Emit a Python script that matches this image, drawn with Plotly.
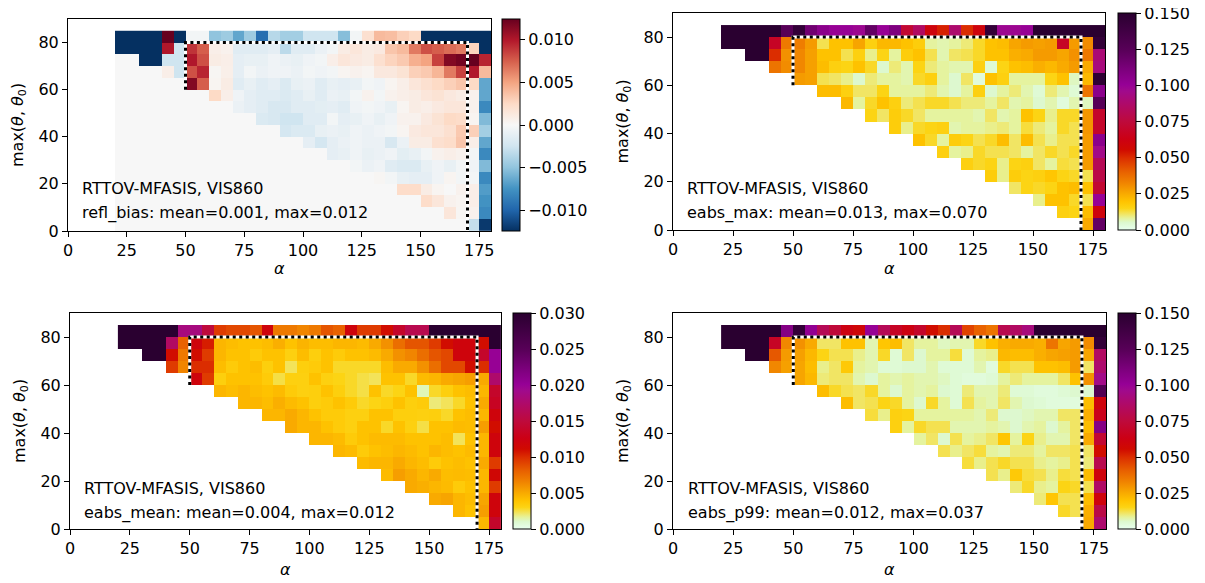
import numpy as np
import plotly.graph_objects as go

W, H = 1205, 583
OFF = 8  # the page body adds an 8px margin around the figure
N = None

# ---- grid (cell centres) ----
alpha_centers = [22.5, 27.5, 32.5, 37.5, 42.5, 47.5, 52.5, 57.5, 62.5, 67.5, 72.5, 77.5,
                 82.5, 87.5, 92.5, 97.5, 102.5, 107.5, 112.5, 117.5, 122.5, 127.5, 132.5,
                 137.5, 142.5, 147.5, 152.5, 157.5, 162.5, 167.5, 172.5, 177.5]
theta_centers = [82.5, 77.5, 72.5, 67.5, 62.5, 57.5, 52.5, 47.5, 42.5, 37.5, 32.5,
                 27.5, 22.5, 17.5, 12.5, 7.5, 2.5]

x_ticks = [0, 25, 50, 75, 100, 125, 150, 175]
y_ticks = [0, 20, 40, 60, 80]

# dotted validity box
box_alpha = [50, 50, 170, 170]
box_theta = [60, 80, 80, 0]

# ---- refl_bias (units of 1e-3), rows from theta=80-85 down to 0-5 ----
refl_bias_milli = [
    [-13, -13, -13, -13, 12.5, -13, -0.3, -0.3, -5, -4.5, -6.5, -4.5, -9.5, -3.5, -4.3, -4.3, -2.5, -2.5, -2.5, -5.3, -0.3, 2, 4, 3.8, 3, 2.5, -13, -13, -13, -13, -13, -13],
    [-13, -13, -13, -13, 10, -2.5, 9, 7.5, 0.8, 0.5, -1.5, -1.5, -1.5, -1.2, -3.3, -1.5, -1.5, -0.8, -0.3, 1, 1.5, 1, 1.2, 3.5, 4, 6.5, 8, 7.5, 7, 6.5, 2.8, -13],
    [0, 0, -13, -13, -2.5, -2.5, 10, 8, 1, 0.8, -1.2, -1, -1, -0.5, -0.8, -1, -0.5, -0.3, 0.8, 1.5, 1.2, 1, 2, 2.8, 3.3, 4.5, 5, 8.5, 11.5, 12, 12.5, 9.5],
    [0, 0, 0, 0, 0.8, -2.5, 8, 9.5, 0.2, 0.7, -1.2, -0.3, -0.8, -0.5, -0.5, -0.8, -0.3, -0.5, -0.3, 0.3, 0.5, 0.3, 1.3, 1.3, 1.8, 3, 3.3, 4.2, 6.5, 8.5, 10, 4],
    [0, 0, 0, 0, 0, 0, 11.5, 7.5, 0.3, 1, -1.5, -1, -1.5, -1.2, -1.8, -1, -0.8, -1.5, -1, -1.2, -1, -0.3, -0.5, 0.3, 0.8, 1.5, 2, 2.5, 3, 3.5, 2.5, -6.5],
    [0, 0, 0, 0, 0, 0, 0, 0, 2.5, 0.8, -0.5, -1.2, -1.5, -1.5, -1.8, -1.5, -1, -1.5, -0.8, -1, -0.3, 0.5, -0.3, 0.5, 0.8, 1, 1.5, 1.8, 1.3, 1, 0.5, -6.5],
    [0, 0, 0, 0, 0, 0, 0, 0, 0, 0, -0.8, -1.2, -1.5, -2, -2, -1.5, -1.5, -1.3, -1.2, -1.5, -0.5, -0.3, -0.5, -1, 0.3, 1, 0.8, 1.2, 1.5, 1.5, 0.5, -8],
    [0, 0, 0, 0, 0, 0, 0, 0, 0, 0, 0, 0, -1.8, -2, -2.5, -2.5, -1.5, -1.5, -0.3, -1.2, -1, -0.5, -1, -0.5, 0.5, 0.5, 1.2, 1.8, 2.5, 2.3, 0.3, -5.5],
    [0, 0, 0, 0, 0, 0, 0, 0, 0, 0, 0, 0, 0, 0, -2.2, -1.8, -1.8, -1, -0.8, -1, -0.5, -0.8, -0.5, -0.3, 0.3, 1.2, 1.5, 1.5, 2, 3.3, 3, -4.3],
    [0, 0, 0, 0, 0, 0, 0, 0, 0, 0, 0, 0, 0, 0, 0, 0, -1.2, -2.2, -1.2, -0.8, -0.5, -0.8, -0.8, -2, -0.8, 1, 1, 2, 2.3, 3.5, 0.8, -6.5],
    [0, 0, 0, 0, 0, 0, 0, 0, 0, 0, 0, 0, 0, 0, 0, 0, 0, 0, -1.2, -1, -0.5, -1, -0.8, -0.5, -1.3, -1, -0.3, 0.5, 0.8, 0.5, -0.3, -8],
    [0, 0, 0, 0, 0, 0, 0, 0, 0, 0, 0, 0, 0, 0, 0, 0, 0, 0, 0, 0, -0.3, -0.8, -0.5, -1.5, -1.8, -1.8, -1, -0.5, -1, -0.3, -0.5, -5.5],
    [0, 0, 0, 0, 0, 0, 0, 0, 0, 0, 0, 0, 0, 0, 0, 0, 0, 0, 0, 0, 0, 0, 0.2, -0.3, -1, -1.2, -1.2, -0.5, 0.3, -0.3, -0.3, -8],
    [0, 0, 0, 0, 0, 0, 0, 0, 0, 0, 0, 0, 0, 0, 0, 0, 0, 0, 0, 0, 0, 0, 0, 0, 2.3, 2.3, 1, 0.3, 0, 0.5, 0.8, -7],
    [0, 0, 0, 0, 0, 0, 0, 0, 0, 0, 0, 0, 0, 0, 0, 0, 0, 0, 0, 0, 0, 0, 0, 0, 0, 0, 2.3, 1.5, 0.5, 0.3, 0.8, -7.5],
    [0, 0, 0, 0, 0, 0, 0, 0, 0, 0, 0, 0, 0, 0, 0, 0, 0, 0, 0, 0, 0, 0, 0, 0, 0, 0, 0, 0, 1.5, 0.2, 0.5, -8],
    [0, 0, 0, 0, 0, 0, 0, 0, 0, 0, 0, 0, 0, 0, 0, 0, 0, 0, 0, 0, 0, 0, 0, 0, 0, 0, 0, 0, 0, 0, -3, -12],
]

# ---- eabs_max (units of 1e-3) ----
eabs_max_milli = [
    [150, 150, 150, 150, 150, 125, 145, 115, 105, 100, 100, 98, 120, 100, 110, 72, 85, 60, 52, 88, 50, 60, 145, 98, 98, 100, 150, 150, 150, 150, 150, 150],
    [150, 150, 150, 150, 68, 35, 34, 28, 12, 20, 20, 26, 16, 22, 22, 20, 17, 8, 7, 8, 10, 14, 20, 21, 26, 28, 27, 28, 68, 28, 31, 145],
    [N, N, 150, 150, 50, 30, 32, 27, 20, 20, 12, 16, 9, 15, 8, 17, 20, 12, 7, 11, 12, 14, 20, 20, 24, 25, 28, 28, 26, 30, 35, 90],
    [N, N, N, N, 36, 31, 32, 27, 21, 16, 15, 20, 14, 5, 10, 7, 15, 10, 8, 7, 7, 16, 4, 15, 20, 21, 24, 22, 25, 28, 25, 92],
    [N, N, N, N, N, N, 28, 27, 12, 11, 9, 5, 10, 8, 8, 7, 14, 16, 8, 5, 11, 3, 20, 16, 8, 8, 8, 15, 20, 6, 22, 148],
    [N, N, N, N, N, N, N, N, 21, 21, 16, 11, 11, 15, 8, 8, 8, 10, 7, 5, 8, 16, 5, 8, 10, 7, 4, 10, 7, 4, 36, 105],
    [N, N, N, N, N, N, N, N, N, N, 22, 8, 14, 20, 16, 10, 12, 14, 14, 12, 10, 10, 8, 11, 7, 8, 5, 7, 3, 7, 6, 125],
    [N, N, N, N, N, N, N, N, N, N, N, N, 15, 11, 17, 14, 11, 8, 8, 8, 8, 7, 11, 7, 8, 20, 15, 9, 14, 14, 29, 70],
    [N, N, N, N, N, N, N, N, N, N, N, N, N, N, 17, 9, 14, 15, 16, 7, 8, 8, 9, 10, 8, 13, 10, 8, 14, 12, 29, 70],
    [N, N, N, N, N, N, N, N, N, N, N, N, N, N, N, N, 20, 14, 8, 17, 15, 12, 14, 21, 11, 21, 12, 9, 12, 12, 28, 105],
    [N, N, N, N, N, N, N, N, N, N, N, N, N, N, N, N, N, N, 16, 8, 9, 14, 12, 12, 11, 8, 11, 14, 12, 14, 28, 95],
    [N, N, N, N, N, N, N, N, N, N, N, N, N, N, N, N, N, N, N, N, 16, 14, 15, 9, 15, 16, 11, 8, 13, 12, 28, 82],
    [N, N, N, N, N, N, N, N, N, N, N, N, N, N, N, N, N, N, N, N, N, N, 17, 9, 17, 15, 16, 19, 15, 14, 12, 78],
    [N, N, N, N, N, N, N, N, N, N, N, N, N, N, N, N, N, N, N, N, N, N, N, N, 11, 15, 14, 15, 20, 21, 20, 72],
    [N, N, N, N, N, N, N, N, N, N, N, N, N, N, N, N, N, N, N, N, N, N, N, N, N, N, 9, 20, 20, 14, 12, 100],
    [N, N, N, N, N, N, N, N, N, N, N, N, N, N, N, N, N, N, N, N, N, N, N, N, N, N, N, N, 16, 15, 21, 60],
    [N, N, N, N, N, N, N, N, N, N, N, N, N, N, N, N, N, N, N, N, N, N, N, N, N, N, N, N, N, N, 25, 120],
]

# ---- eabs_mean (units of 1e-3) ----
eabs_mean_milli = [
    [30, 30, 30, 30, 30, 18.5, 18.5, 15, 9.5, 9, 9, 8.5, 12, 7, 7, 6.5, 7, 8.5, 8, 12, 9.5, 9.5, 11, 14, 16, 16, 30, 30, 30, 30, 30, 30],
    [30, 30, 30, 30, 17, 8, 12, 10.5, 4.5, 4.2, 4, 4, 4.2, 4.8, 4, 4.6, 4.2, 4.2, 4.5, 4.5, 4.3, 5, 6, 7.5, 8.5, 8.5, 9.5, 11, 12, 12, 11, 30],
    [N, N, 30, 30, 11, 7, 11, 9.5, 4.5, 4, 4, 3.5, 4, 4, 3.2, 4.2, 3.3, 4, 3.5, 4, 4, 4.3, 5, 6, 6.5, 7.5, 8.5, 9, 12, 12, 14, 20],
    [N, N, N, N, 9.5, 6.5, 10, 10, 4.2, 3.5, 4, 4.2, 3.3, 4, 2.3, 3.3, 3.5, 4, 2.8, 2.8, 2.8, 2.8, 4.2, 5, 5, 6, 7.5, 9, 9, 11, 10, 20],
    [N, N, N, N, N, N, 12, 9.5, 3.3, 4, 4, 4, 3.5, 2.5, 3.2, 3.2, 4, 3.2, 3, 2.8, 2.5, 2.3, 4, 4, 2.8, 4.3, 4.5, 5, 5.2, 5.5, 5, 17.5],
    [N, N, N, N, N, N, N, N, 4.5, 4.2, 4.5, 4.2, 4, 4.3, 3.5, 3.2, 3.3, 4, 3.3, 2.8, 2.5, 4, 2.8, 3, 4, 1.3, 2.8, 3.3, 4, 4.2, 4.5, 14],
    [N, N, N, N, N, N, N, N, N, N, 4.5, 4.5, 4.2, 4.8, 4.3, 4, 3.3, 3.5, 4, 3.5, 2.8, 3, 3.3, 4, 3.3, 3.5, 2, 2.3, 2.8, 4, 5, 13.5],
    [N, N, N, N, N, N, N, N, N, N, N, N, 4.5, 4.5, 5, 4.5, 4, 3.5, 3.5, 3.2, 3.2, 4, 4, 3.3, 3.3, 3.2, 3.3, 2.8, 4, 4.2, 4.5, 12],
    [N, N, N, N, N, N, N, N, N, N, N, N, N, N, 5, 4.5, 4.5, 4, 3.5, 3.2, 4, 4, 2.8, 4, 3.2, 2.5, 4, 4, 4.3, 4.2, 5.5, 11],
    [N, N, N, N, N, N, N, N, N, N, N, N, N, N, N, N, 4.5, 4.5, 4.3, 3.5, 4, 4.3, 4.3, 4.3, 4, 4, 4, 4.2, 2.3, 4, 4.5, 12],
    [N, N, N, N, N, N, N, N, N, N, N, N, N, N, N, N, N, N, 4.5, 4.3, 3.5, 4, 4.2, 4.5, 4.3, 4, 4.5, 4.2, 4, 4.3, 4.5, 12],
    [N, N, N, N, N, N, N, N, N, N, N, N, N, N, N, N, N, N, N, N, 4.3, 4.5, 4.5, 5, 4.5, 4.2, 3.5, 4, 4.2, 4, 5, 9.5],
    [N, N, N, N, N, N, N, N, N, N, N, N, N, N, N, N, N, N, N, N, N, N, 4.3, 5.5, 5, 4.5, 5, 4.2, 4.3, 4.2, 4.5, 11.5],
    [N, N, N, N, N, N, N, N, N, N, N, N, N, N, N, N, N, N, N, N, N, N, N, N, 5, 4.8, 4.5, 4.3, 3.5, 4, 4.5, 9.5],
    [N, N, N, N, N, N, N, N, N, N, N, N, N, N, N, N, N, N, N, N, N, N, N, N, N, N, 5, 5.2, 4.5, 4.2, 5.2, 12],
    [N, N, N, N, N, N, N, N, N, N, N, N, N, N, N, N, N, N, N, N, N, N, N, N, N, N, N, N, 4.5, 4, 5.5, 12],
    [N, N, N, N, N, N, N, N, N, N, N, N, N, N, N, N, N, N, N, N, N, N, N, N, N, N, N, N, N, N, 4.5, 14],
]

# ---- eabs_p99 (units of 1e-3) ----
eabs_p99_milli = [
    [150, 150, 150, 150, 150, 108, 145, 102, 82, 74, 62, 58, 100, 82, 68, 62, 70, 55, 50, 82, 46, 40, 36, 80, 85, 92, 150, 150, 150, 150, 150, 150],
    [150, 150, 150, 150, 68, 32, 30, 25, 11, 11, 20, 20, 7, 19, 21, 11, 8, 8, 6, 7, 7, 14, 20, 24, 25, 25, 24, 36, 26, 28, 31, 145],
    [N, N, 150, 150, 42, 28, 27, 22, 15, 12, 12, 9, 7, 14, 4, 11, 5, 8, 8, 13, 4, 8, 9, 22, 21, 21, 24, 26, 27, 28, 26, 85],
    [N, N, N, N, 32, 27, 26, 21, 9, 11, 18, 8, 7, 4, 4, 5, 5, 7, 4, 4, 4, 7, 3, 14, 12, 12, 20, 20, 21, 28, 11, 88],
    [N, N, N, N, N, N, 26, 22, 10, 11, 11, 7, 5, 8, 7, 8, 7, 7, 6, 4, 3, 3, 4, 8, 10, 8, 8, 8, 11, 20, 30, 95],
    [N, N, N, N, N, N, N, N, 21, 14, 12, 11, 14, 8, 5, 8, 7, 8, 5, 4, 10, 7, 7, 10, 4, 4, 3, 3, 4, 5, 5, 128],
    [N, N, N, N, N, N, N, N, N, N, 21, 11, 12, 15, 14, 8, 5, 14, 8, 4, 12, 8, 7, 11, 7, 5, 4, 3, 3, 3, 21, 60],
    [N, N, N, N, N, N, N, N, N, N, N, N, 13, 9, 16, 15, 8, 8, 8, 8, 8, 7, 10, 5, 5, 6, 7, 7, 11, 11, 24, 65],
    [N, N, N, N, N, N, N, N, N, N, N, N, N, N, 16, 8, 14, 12, 12, 7, 7, 7, 8, 7, 5, 7, 8, 5, 8, 11, 21, 108],
    [N, N, N, N, N, N, N, N, N, N, N, N, N, N, N, N, 8, 11, 5, 12, 8, 9, 11, 19, 8, 15, 9, 7, 7, 11, 25, 72],
    [N, N, N, N, N, N, N, N, N, N, N, N, N, N, N, N, N, N, 12, 9, 11, 13, 8, 7, 10, 10, 8, 11, 11, 12, 11, 55],
    [N, N, N, N, N, N, N, N, N, N, N, N, N, N, N, N, N, N, N, N, 13, 9, 12, 14, 12, 12, 9, 8, 9, 12, 10, 80],
    [N, N, N, N, N, N, N, N, N, N, N, N, N, N, N, N, N, N, N, N, N, N, 12, 9, 18, 13, 12, 9, 13, 12, 21, 60],
    [N, N, N, N, N, N, N, N, N, N, N, N, N, N, N, N, N, N, N, N, N, N, N, N, 10, 14, 9, 8, 15, 14, 12, 86],
    [N, N, N, N, N, N, N, N, N, N, N, N, N, N, N, N, N, N, N, N, N, N, N, N, N, N, 10, 19, 12, 12, 21, 60],
    [N, N, N, N, N, N, N, N, N, N, N, N, N, N, N, N, N, N, N, N, N, N, N, N, N, N, N, N, 14, 12, 24, 78],
    [N, N, N, N, N, N, N, N, N, N, N, N, N, N, N, N, N, N, N, N, N, N, N, N, N, N, N, N, N, N, 25, 88],
]

stat_labels = ["refl_bias: mean=0.001, max=0.012",
               "eabs_max: mean=0.013, max=0.070",
               "eabs_mean: mean=0.004, max=0.012",
               "eabs_p99: mean=0.012, max=0.037"]
model_label = "RTTOV-MFASIS, VIS860"
x_title = "<i>α</i>"
y_title = "max(<i>θ</i>, <i>θ</i><sub>0</sub>)"

# ---- colour scales ----
rdbu_r = [[0.0, '#053061'], [0.1, '#2166ac'], [0.2, '#4393c3'], [0.3, '#92c5de'],
          [0.4, '#d1e5f0'], [0.5, '#f7f7f7'], [0.6, '#fddbc7'], [0.7, '#f4a582'],
          [0.8, '#d6604d'], [0.9, '#b2182b'], [1.0, '#67001f']]
eabs_cs = [[0.000, 'rgb(232,255,240)'], [0.035, 'rgb(220,248,205)'], [0.055, 'rgb(230,242,155)'],
           [0.075, 'rgb(242,228,95)'], [0.100, 'rgb(252,212,20)'], [0.130, 'rgb(255,196,0)'],
           [0.170, 'rgb(248,168,0)'], [0.220, 'rgb(240,130,0)'], [0.270, 'rgb(232,96,0)'],
           [0.330, 'rgb(220,48,0)'], [0.370, 'rgb(208,10,0)'], [0.420, 'rgb(204,0,20)'],
           [0.500, 'rgb(190,10,60)'], [0.580, 'rgb(175,10,105)'], [0.640, 'rgb(160,10,140)'],
           [0.670, 'rgb(150,0,150)'], [0.730, 'rgb(128,0,128)'], [0.830, 'rgb(88,0,88)'],
           [1.000, 'rgb(42,0,48)']]

FONT = 'DejaVu Sans'
FS = 16

panels = [
    dict(z=refl_bias_milli, zmin=-0.0124, zmax=0.0124, cs=rdbu_r,
         ax=(68, 491, 19, 231), cb=(502, 19, 231),
         cbt=[-0.010, -0.005, 0.0, 0.005, 0.010],
         cbl=['\u22120.010', '\u22120.005', '0.000', '0.005', '0.010'],
         txt=(80, 189, 213), ytl=18, xtl=268),
    dict(z=eabs_max_milli, zmin=0.0, zmax=0.15, cs=eabs_cs,
         ax=(673, 1105, 13, 230), cb=(1118, 13, 230),
         cbt=[0, 0.025, 0.05, 0.075, 0.1, 0.125, 0.15],
         cbl=['0.000', '0.025', '0.050', '0.075', '0.100', '0.125', '0.150'],
         txt=(685, 188.5, 213), ytl=623, xtl=268),
    dict(z=eabs_mean_milli, zmin=0.0, zmax=0.03, cs=eabs_cs,
         ax=(70, 501, 313, 529), cb=(513, 313, 529),
         cbt=[0, 0.005, 0.01, 0.015, 0.02, 0.025, 0.03],
         cbl=['0.000', '0.005', '0.010', '0.015', '0.020', '0.025', '0.030'],
         txt=(82, 489, 512.5), ytl=20, xtl=569),
    dict(z=eabs_p99_milli, zmin=0.0, zmax=0.15, cs=eabs_cs,
         ax=(673, 1106, 313, 529), cb=(1118, 313, 529),
         cbt=[0, 0.025, 0.05, 0.075, 0.1, 0.125, 0.15],
         cbl=['0.000', '0.025', '0.050', '0.075', '0.100', '0.125', '0.150'],
         txt=(686, 489, 512.5), ytl=623, xtl=569),
]


def fx(px):
    return (px - OFF) / W


def fy(py):
    return 1 - (py - OFF) / H


fig = go.Figure()
tfont = dict(family=FONT, size=FS, color='black')
layout = dict(width=W, height=H, margin=dict(l=0, r=0, t=0, b=0, autoexpand=False),
              paper_bgcolor='white', plot_bgcolor='white',
              font=tfont, showlegend=False, shapes=[], annotations=[])

box_path = 'M ' + ' L '.join(f'{a},{t}' for a, t in zip(box_alpha, box_theta))

for i, p in enumerate(panels, start=1):
    sfx = '' if i == 1 else str(i)
    xa, ya = 'x' + sfx, 'y' + sfx
    x0, x1, y0, y1 = p['ax']
    z = np.array(p['z'], dtype=float) * 1e-3
    cbx, cbt0, cbt1 = p['cb']
    fig.add_trace(go.Heatmap(
        x=alpha_centers, y=theta_centers, z=z,
        colorscale=p['cs'], zmin=p['zmin'], zmax=p['zmax'],
        xaxis=xa, yaxis=ya, hoverongaps=False,
        colorbar=dict(x=fx(cbx), xanchor='left', xpad=0,
                      y=fy(cbt0), yanchor='top', ypad=0,
                      len=(cbt1 - cbt0) / H, lenmode='fraction',
                      thickness=18, thicknessmode='pixels',
                      outlinewidth=1, outlinecolor='black',
                      ticks='outside', ticklen=5, tickwidth=1, tickcolor='black',
                      ticklabeloverflow='allow',
                      tickvals=p['cbt'], ticktext=p['cbl'], tickfont=tfont)))
    common = dict(ticks='outside', ticklen=5, tickwidth=1, tickcolor='black',
                  showline=True, mirror=True, linecolor='black', linewidth=1,
                  showgrid=False, zeroline=False, automargin=False, tickfont=tfont,
                  ticklabeloverflow='allow')
    layout['xaxis' + sfx] = dict(domain=[fx(x0), fx(x1)], anchor=ya, range=[0, 180],
                                 tickvals=x_ticks, **common)
    layout['yaxis' + sfx] = dict(domain=[fy(y1), fy(y0)], anchor=xa, range=[0, 90],
                                 tickvals=y_ticks, **common)
    layout['shapes'].append(dict(type='path', path=box_path, xref=xa, yref=ya,
                                 line=dict(color='white', width=3), layer='above'))
    layout['shapes'].append(dict(type='path', path=box_path, xref=xa, yref=ya,
                                 line=dict(color='black', width=3, dash='3px,3.5px'),
                                 layer='above'))
    tx, ty1, ty2 = p['txt']
    for ty, txt in ((ty1, model_label), (ty2, stat_labels[i - 1])):
        layout['annotations'].append(dict(
            x=fx(tx), y=fy(ty), xref='paper', yref='paper',
            xanchor='left', yanchor='middle', showarrow=False, text=txt, font=tfont))
    # axis titles
    layout['annotations'].append(dict(
        x=fx((x0 + x1) / 2), y=fy(p['xtl']), xref='paper', yref='paper',
        xanchor='center', yanchor='middle', showarrow=False, text=x_title, font=tfont))
    layout['annotations'].append(dict(
        x=fx(p['ytl']), y=fy((y0 + y1) / 2), xref='paper', yref='paper',
        xanchor='center', yanchor='middle', showarrow=False, text=y_title,
        textangle=-90, font=tfont))

fig.update_layout(**layout)
fig.write_html("out.html")
